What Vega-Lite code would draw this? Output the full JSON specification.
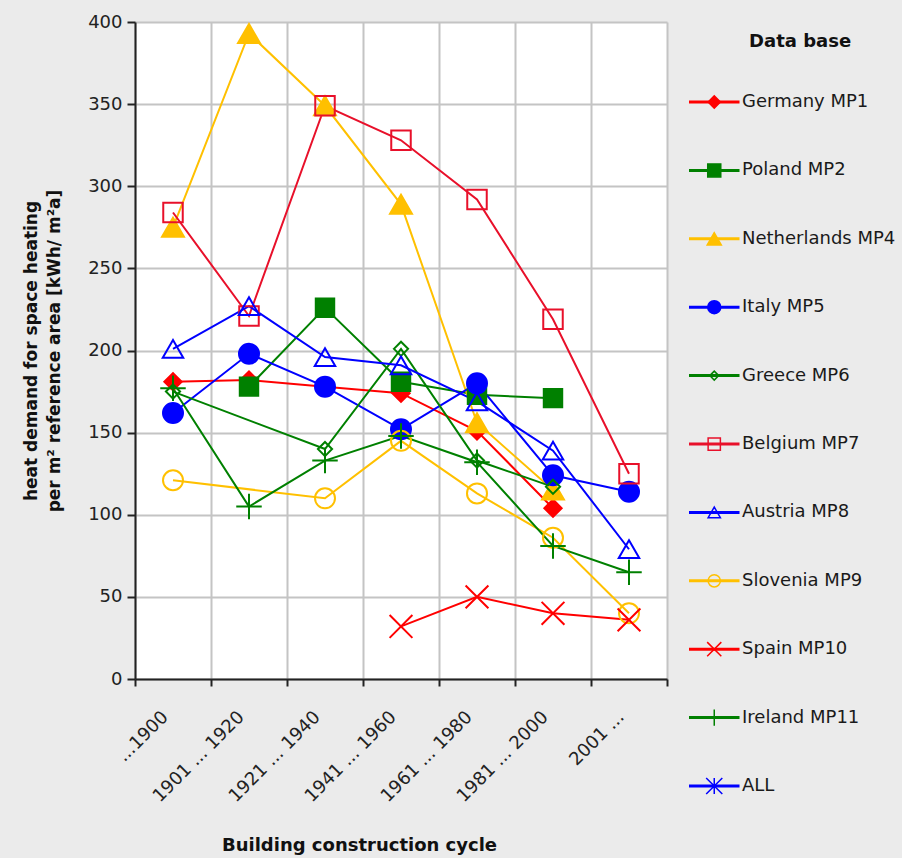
{
  "$schema": "https://vega.github.io/schema/vega-lite/v6.json",
  "background": "#EBEBEB",
  "padding": {"left": 22, "top": 13, "right": 6, "bottom": 4},
  "bounds": "flush",
  "spacing": 22,
  "config": {"font": "DejaVu Sans", "view": {"stroke": null}},
  "resolve": {"scale": {"size": "independent"}},
  "datasets": {
    "main": [
      {"series": "Germany MP1", "cycle": "...1900", "value": 181},
      {"series": "Germany MP1", "cycle": "1901 ... 1920", "value": 182},
      {"series": "Germany MP1", "cycle": "1921 ... 1940", "value": 178},
      {"series": "Germany MP1", "cycle": "1941 ... 1960", "value": 174},
      {"series": "Germany MP1", "cycle": "1961 ... 1980", "value": 151},
      {"series": "Germany MP1", "cycle": "1981 ... 2000", "value": 104},
      {"series": "Poland MP2", "cycle": "1901 ... 1920", "value": 178},
      {"series": "Poland MP2", "cycle": "1921 ... 1940", "value": 226},
      {"series": "Poland MP2", "cycle": "1941 ... 1960", "value": 181},
      {"series": "Poland MP2", "cycle": "1961 ... 1980", "value": 173},
      {"series": "Poland MP2", "cycle": "1981 ... 2000", "value": 171},
      {"series": "Netherlands MP4", "cycle": "...1900", "value": 275},
      {"series": "Netherlands MP4", "cycle": "1901 ... 1920", "value": 393},
      {"series": "Netherlands MP4", "cycle": "1921 ... 1940", "value": 349},
      {"series": "Netherlands MP4", "cycle": "1941 ... 1960", "value": 289},
      {"series": "Netherlands MP4", "cycle": "1961 ... 1980", "value": 156},
      {"series": "Netherlands MP4", "cycle": "1981 ... 2000", "value": 115},
      {"series": "Italy MP5", "cycle": "...1900", "value": 162},
      {"series": "Italy MP5", "cycle": "1901 ... 1920", "value": 198},
      {"series": "Italy MP5", "cycle": "1921 ... 1940", "value": 178},
      {"series": "Italy MP5", "cycle": "1941 ... 1960", "value": 152},
      {"series": "Italy MP5", "cycle": "1961 ... 1980", "value": 180},
      {"series": "Italy MP5", "cycle": "1981 ... 2000", "value": 124},
      {"series": "Italy MP5", "cycle": "2001 ...", "value": 114},
      {"series": "Greece MP6", "cycle": "...1900", "value": 175},
      {"series": "Greece MP6", "cycle": "1921 ... 1940", "value": 140},
      {"series": "Greece MP6", "cycle": "1941 ... 1960", "value": 201},
      {"series": "Greece MP6", "cycle": "1961 ... 1980", "value": 133},
      {"series": "Greece MP6", "cycle": "1981 ... 2000", "value": 117},
      {"series": "Belgium MP7", "cycle": "...1900", "value": 284},
      {"series": "Belgium MP7", "cycle": "1901 ... 1920", "value": 221},
      {"series": "Belgium MP7", "cycle": "1921 ... 1940", "value": 349},
      {"series": "Belgium MP7", "cycle": "1941 ... 1960", "value": 328},
      {"series": "Belgium MP7", "cycle": "1961 ... 1980", "value": 292},
      {"series": "Belgium MP7", "cycle": "1981 ... 2000", "value": 219},
      {"series": "Belgium MP7", "cycle": "2001 ...", "value": 125},
      {"series": "Austria MP8", "cycle": "...1900", "value": 201},
      {"series": "Austria MP8", "cycle": "1901 ... 1920", "value": 227},
      {"series": "Austria MP8", "cycle": "1921 ... 1940", "value": 196},
      {"series": "Austria MP8", "cycle": "1941 ... 1960", "value": 191},
      {"series": "Austria MP8", "cycle": "1961 ... 1980", "value": 169},
      {"series": "Austria MP8", "cycle": "1981 ... 2000", "value": 139},
      {"series": "Austria MP8", "cycle": "2001 ...", "value": 79},
      {"series": "Slovenia MP9", "cycle": "...1900", "value": 121},
      {"series": "Slovenia MP9", "cycle": "1921 ... 1940", "value": 110},
      {"series": "Slovenia MP9", "cycle": "1941 ... 1960", "value": 145},
      {"series": "Slovenia MP9", "cycle": "1961 ... 1980", "value": 113},
      {"series": "Slovenia MP9", "cycle": "1981 ... 2000", "value": 86},
      {"series": "Slovenia MP9", "cycle": "2001 ...", "value": 40},
      {"series": "Spain MP10", "cycle": "1941 ... 1960", "value": 32},
      {"series": "Spain MP10", "cycle": "1961 ... 1980", "value": 50},
      {"series": "Spain MP10", "cycle": "1981 ... 2000", "value": 40},
      {"series": "Spain MP10", "cycle": "2001 ...", "value": 36},
      {"series": "Ireland MP11", "cycle": "...1900", "value": 177},
      {"series": "Ireland MP11", "cycle": "1901 ... 1920", "value": 105},
      {"series": "Ireland MP11", "cycle": "1921 ... 1940", "value": 133},
      {"series": "Ireland MP11", "cycle": "1941 ... 1960", "value": 148},
      {"series": "Ireland MP11", "cycle": "1961 ... 1980", "value": 132},
      {"series": "Ireland MP11", "cycle": "1981 ... 2000", "value": 81},
      {"series": "Ireland MP11", "cycle": "2001 ...", "value": 65}
    ],
    "legend": [
      {"series": "Germany MP1"}, {"series": "Poland MP2"}, {"series": "Netherlands MP4"},
      {"series": "Italy MP5"}, {"series": "Greece MP6"}, {"series": "Belgium MP7"},
      {"series": "Austria MP8"}, {"series": "Slovenia MP9"}, {"series": "Spain MP10"},
      {"series": "Ireland MP11"}, {"series": "ALL"}
    ]
  },
  "hconcat": [
    {
      "width": 532,
      "height": 657,
      "view": {"fill": "white", "stroke": null},
      "data": {"name": "main"},
      "encoding": {
        "x": {
          "field": "cycle", "type": "ordinal",
          "sort": ["...1900", "1901 ... 1920", "1921 ... 1940", "1941 ... 1960", "1961 ... 1980", "1981 ... 2000", "2001 ..."],
          "scale": {"type": "band", "paddingInner": 0, "paddingOuter": 0},
          "axis": {
            "title": "Building construction cycle",
            "titleFontSize": 18, "titleFontWeight": "bold", "titleColor": "#111111",
            "titleX": 224, "titleY": 166, "titleBaseline": "middle",
            "labelAngle": -45, "labelAlign": "right", "labelBaseline": "middle",
            "labelFontSize": 18, "labelColor": "#222222", "labelPadding": 28, "labelOffset": -8, "labelOverlap": false,
            "tickBand": "extent", "tickSize": 7, "tickWidth": 2, "tickColor": "#222222",
            "domainColor": "#222222", "domainWidth": 2,
            "grid": true, "gridColor": "#C4C4C4", "gridWidth": 2
          }
        },
        "y": {
          "field": "value", "type": "quantitative",
          "scale": {"domain": [0, 400], "nice": false},
          "axis": {
            "title": ["heat demand for space heating", "per m² reference area [kWh/ m²a]"],
            "titleFontSize": 17, "titleFontWeight": "bold", "titleColor": "#111111",
            "titleLineHeight": 23, "titleX": -95, "titleBaseline": "bottom",
            "values": [0, 50, 100, 150, 200, 250, 300, 350, 400],
            "labelFontSize": 18, "labelColor": "#222222", "labelPadding": 5,
            "tickSize": 8, "tickWidth": 2, "tickColor": "#222222",
            "domainColor": "#222222", "domainWidth": 2,
            "grid": true, "gridColor": "#C4C4C4", "gridWidth": 2
          }
        }
      },
      "layer": [
        {
          "mark": {"type": "line", "strokeWidth": 2},
          "encoding": {
            "color": {
              "field": "series", "type": "nominal", "legend": null,
              "scale": {
                "domain": ["Germany MP1", "Poland MP2", "Netherlands MP4", "Italy MP5", "Greece MP6", "Belgium MP7", "Austria MP8", "Slovenia MP9", "Spain MP10", "Ireland MP11", "ALL"],
                "range": ["#FF0000", "#008000", "#FFC000", "#0000FF", "#008000", "#E8102A", "#0000FF", "#FFC000", "#FF0000", "#008000", "#0000FF"]
              }
            }
          }
        },
        {
          "mark": {"type": "point", "strokeWidth": 2, "opacity": 1},
          "encoding": {
            "shape": {
              "field": "series", "type": "nominal", "legend": null,
              "scale": {
                "domain": ["Germany MP1", "Poland MP2", "Netherlands MP4", "Italy MP5", "Greece MP6", "Belgium MP7", "Austria MP8", "Slovenia MP9", "Spain MP10", "Ireland MP11", "ALL"],
                "range": ["diamond", "square", "triangle-up", "circle", "diamond", "square", "triangle-up", "circle", "M-1,-1L1,1M-1,1L1,-1", "M-1,0L1,0M0,-1L0,1", "M-1,-1L1,1M-1,1L1,-1M0,-1L0,1"]
              }
            },
            "stroke": {
              "field": "series", "type": "nominal", "legend": null,
              "scale": {
                "domain": ["Germany MP1", "Poland MP2", "Netherlands MP4", "Italy MP5", "Greece MP6", "Belgium MP7", "Austria MP8", "Slovenia MP9", "Spain MP10", "Ireland MP11", "ALL"],
                "range": ["#FF0000", "#008000", "#FFC000", "#0000FF", "#008000", "#E8102A", "#0000FF", "#FFC000", "#FF0000", "#008000", "#0000FF"]
              }
            },
            "fill": {
              "field": "series", "type": "nominal", "legend": null,
              "scale": {
                "domain": ["Germany MP1", "Poland MP2", "Netherlands MP4", "Italy MP5", "Greece MP6", "Belgium MP7", "Austria MP8", "Slovenia MP9", "Spain MP10", "Ireland MP11", "ALL"],
                "range": ["#FF0000", "#008000", "#FFC000", "#0000FF", "transparent", "transparent", "transparent", "transparent", "transparent", "transparent", "transparent"]
              }
            },
            "size": {
              "field": "series", "type": "nominal", "legend": null,
              "scale": {
                "type": "ordinal",
                "domain": ["Germany MP1", "Poland MP2", "Netherlands MP4", "Italy MP5", "Greece MP6", "Belgium MP7", "Austria MP8", "Slovenia MP9", "Spain MP10", "Ireland MP11", "ALL"],
                "range": [300, 340, 480, 400, 200, 380, 420, 400, 520, 650, 400]
              }
            }
          }
        }
      ]
    },
    {
      "width": 202,
      "height": 790,
      "data": {"name": "legend"},
      "encoding": {
        "y": {
          "field": "series", "type": "nominal", "axis": null,
          "scale": {
            "type": "point",
            "domain": ["Data base", "Germany MP1", "Poland MP2", "Netherlands MP4", "Italy MP5", "Greece MP6", "Belgium MP7", "Austria MP8", "Slovenia MP9", "Spain MP10", "Ireland MP11", "ALL"],
            "padding": 0.2749, "align": 0.309
          }
        }
      },
      "layer": [
        {
          "mark": {"type": "rule", "strokeWidth": 3},
          "encoding": {
            "x": {"datum": 0, "type": "quantitative", "scale": {"domain": [0, 4], "nice": false}, "axis": null},
            "x2": {"datum": 1},
            "color": {
              "field": "series", "type": "nominal", "legend": null,
              "scale": {
                "domain": ["Germany MP1", "Poland MP2", "Netherlands MP4", "Italy MP5", "Greece MP6", "Belgium MP7", "Austria MP8", "Slovenia MP9", "Spain MP10", "Ireland MP11", "ALL"],
                "range": ["#FF0000", "#008000", "#FFC000", "#0000FF", "#008000", "#E8102A", "#0000FF", "#FFC000", "#FF0000", "#008000", "#0000FF"]
              }
            }
          }
        },
        {
          "mark": {"type": "point", "strokeWidth": 1.5, "opacity": 1},
          "encoding": {
            "x": {"datum": 0.5, "type": "quantitative"},
            "shape": {"field": "series", "type": "nominal", "legend": null},
            "stroke": {"field": "series", "type": "nominal", "legend": null},
            "fill": {"field": "series", "type": "nominal", "legend": null},
            "size": {
              "field": "series", "type": "nominal", "legend": null,
              "scale": {
                "type": "ordinal",
                "domain": ["Germany MP1", "Poland MP2", "Netherlands MP4", "Italy MP5", "Greece MP6", "Belgium MP7", "Austria MP8", "Slovenia MP9", "Spain MP10", "Ireland MP11", "ALL"],
                "range": [150, 170, 200, 170, 80, 150, 150, 150, 200, 260, 260]
              }
            }
          }
        },
        {
          "mark": {"type": "text", "align": "left", "baseline": "middle", "fontSize": 18, "color": "#1A1A1A"},
          "encoding": {
            "x": {"datum": 1.05, "type": "quantitative"},
            "text": {"field": "series", "type": "nominal"}
          }
        },
        {
          "data": {"values": [{"label": "Data base"}]},
          "mark": {"type": "text", "align": "center", "baseline": "middle", "fontSize": 18, "fontWeight": "bold", "dy": 8, "color": "#111111"},
          "encoding": {
            "x": {"datum": 2.2, "type": "quantitative"},
            "y": {"datum": "Data base", "type": "nominal"},
            "text": {"field": "label", "type": "nominal"}
          }
        }
      ]
    }
  ]
}
